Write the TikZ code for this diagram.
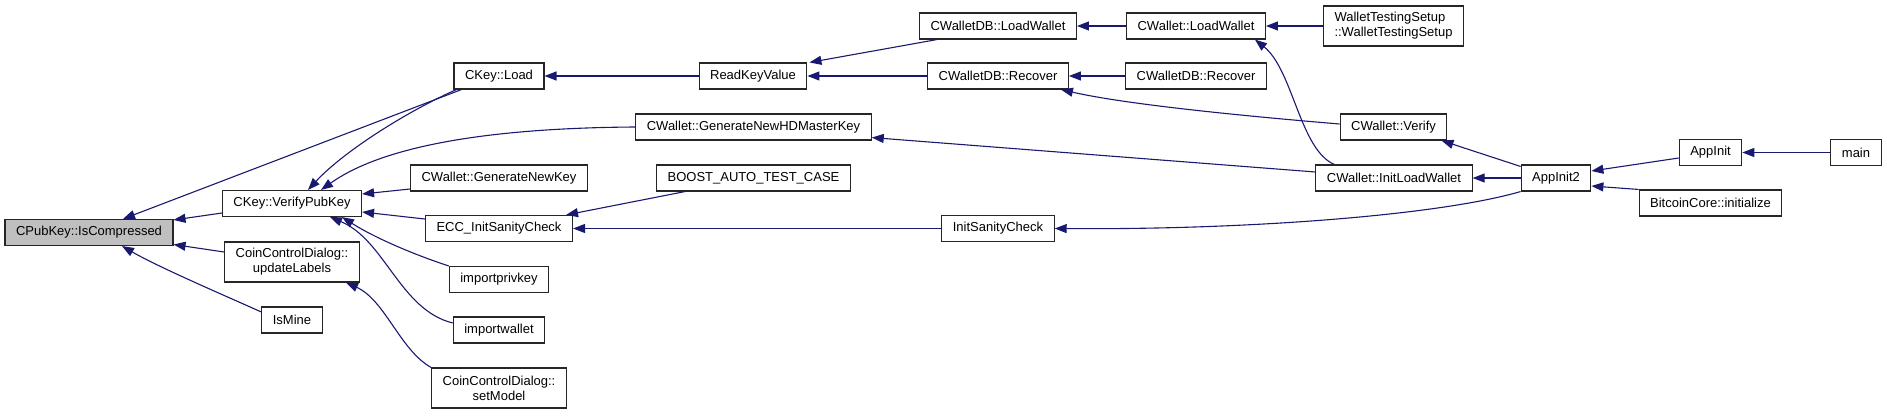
\documentclass[tikz,border=0pt]{standalone}
\usepackage{fontspec}
\setmainfont{Liberation Sans}
\usepackage{tikz}
\usetikzlibrary{arrows.meta}
\definecolor{midblue}{RGB}{25,25,112}

\begin{document}
\begin{tikzpicture}[x=1pt, y=-1pt,
    fn/.style={draw=black!85, line width=1.1pt, fill=white, font=\fontsize{13}{15}\selectfont, inner xsep=11pt, inner ysep=0pt, minimum height=26pt},
    fn2/.style={fn, align=center, minimum height=40pt},
    call/.style={draw=midblue, line width=1.1pt, -{Triangle[length=12pt,width=9pt,fill=midblue]}}]
    \useasboundingbox (0,0) rectangle (1887,415);

    % nodi
    \node[fn, fill=black!25] (cpk) at (89,232.5) {CPubKey::IsCompressed};
    \node[fn] (vpk) at (292,203.5) {CKey::VerifyPubKey};
    \node[fn2] (ccdul) at (292,262) {CoinControlDialog::\\updateLabels};
    \node[fn] (ismine) at (292,320) {IsMine};
    \node[fn] (kload) at (499,76) {CKey::Load};
    \node[fn] (gnk) at (499,178) {CWallet::GenerateNewKey};
    \node[fn] (ecc) at (499,228.5) {ECC\_InitSanityCheck};
    \node[fn] (ipk) at (499,279.5) {importprivkey};
    \node[fn] (iw) at (499,330) {importwallet};
    \node[fn2] (ccdsm) at (499,388) {CoinControlDialog::\\setModel};
    \node[fn] (rkv) at (753,76) {ReadKeyValue};
    \node[fn] (hdmk) at (753.5,127) {CWallet::GenerateNewHDMasterKey};
    \node[fn] (boost) at (753.5,178) {BOOST\_AUTO\_TEST\_CASE};
    \node[fn] (dblw) at (998,26) {CWalletDB::LoadWallet};
    \node[fn] (dbrec) at (998,76) {CWalletDB::Recover};
    \node[fn] (isc) at (998,228.5) {InitSanityCheck};
    \node[fn] (wlw) at (1196,26) {CWallet::LoadWallet};
    \node[fn] (dbrecb) at (1196,76) {CWalletDB::Recover};
    \node[fn2, align=left] (wts) at (1393.5,26) {WalletTestingSetup\\::WalletTestingSetup};
    \node[fn] (wver) at (1393.5,127) {CWallet::Verify};
    \node[fn] (wilw) at (1394,178) {CWallet::InitLoadWallet};
    \node[fn] (ai2) at (1556,178) {AppInit2};
    \node[fn] (ai) at (1710.5,152.5) {AppInit};
    \node[fn] (bci) at (1710.5,203) {BitcoinCore::initialize};
    \node[fn] (main) at (1856,152.5) {main};

    % chiamate orizzontali
    \foreach \a/\b in {rkv/kload, dbrec/rkv, isc/ecc, wlw/dblw, dbrecb/dbrec, wts/wlw, ai2/wilw, main/ai}
        \draw[call] (\a.west) -- (\b.east);

    \draw[call] ([xshift=8pt]kload.south west) -- ([xshift=34pt]cpk.north);
    \draw[call] ([yshift=-9.5pt]vpk.west) -- ([yshift=12.5pt]cpk.east);
    \draw[call] ([yshift=10pt]ccdul.west) -- ([yshift=-12pt]cpk.east);
    \draw[call] ([yshift=8pt]ismine.west) .. controls (235,300) and (160,268) .. ([xshift=33pt]cpk.south);
    \draw[call] ([xshift=3pt]kload.south west) .. controls (410,110) and (345,150) .. ([xshift=16pt]vpk.north);
    \draw[call] (hdmk.west) .. controls (480,128) and (380,148) .. ([xshift=29pt]vpk.north);
    \draw[call] ([yshift=-11pt]gnk.west) -- ([yshift=9.5pt]vpk.east);
    \draw[call] ([yshift=9.5pt]ecc.west) -- ([yshift=-8.5pt]vpk.east);
    \draw[call] (ipk.north west) .. controls (415,255) and (375,238) .. ([xshift=50pt]vpk.south);
    \draw[call] ([yshift=7pt]iw.west) .. controls (400,310) and (385,240) .. ([xshift=38pt]vpk.south);
    \draw[call] (ccdsm.north west) .. controls (400,350) and (385,300) .. ([xshift=54pt]ccdul.south);
    \draw[call] ([xshift=18pt]dblw.south west) -- ([xshift=2pt]rkv.north east);
    \draw[call] ([xshift=29pt]boost.south west) -- ([xshift=-7pt]ecc.north east);
    \draw[call] ([yshift=6pt]wilw.west) -- ([yshift=3pt]hdmk.south east);
    \draw[call] ([yshift=3pt]wver.west) .. controls (1220,114) and (1120,103) .. ([xshift=-8pt]dbrec.south east);
    \draw[call] (ai2.south west) .. controls (1440,215) and (1250,230) .. (isc.east);
    \draw[call] ([xshift=19pt]wilw.north west) .. controls (1300,150) and (1293,70) .. ([xshift=-11pt]wlw.south east);
    \draw[call] ([yshift=-2pt]ai2.north west) -- ([xshift=-6pt]wver.south east);
    \draw[call] ([yshift=-5.5pt]ai.west) -- ([yshift=7pt]ai2.east);
    \draw[call] (bci.north west) -- ([yshift=-8pt]ai2.east);
\end{tikzpicture}
\end{document}
